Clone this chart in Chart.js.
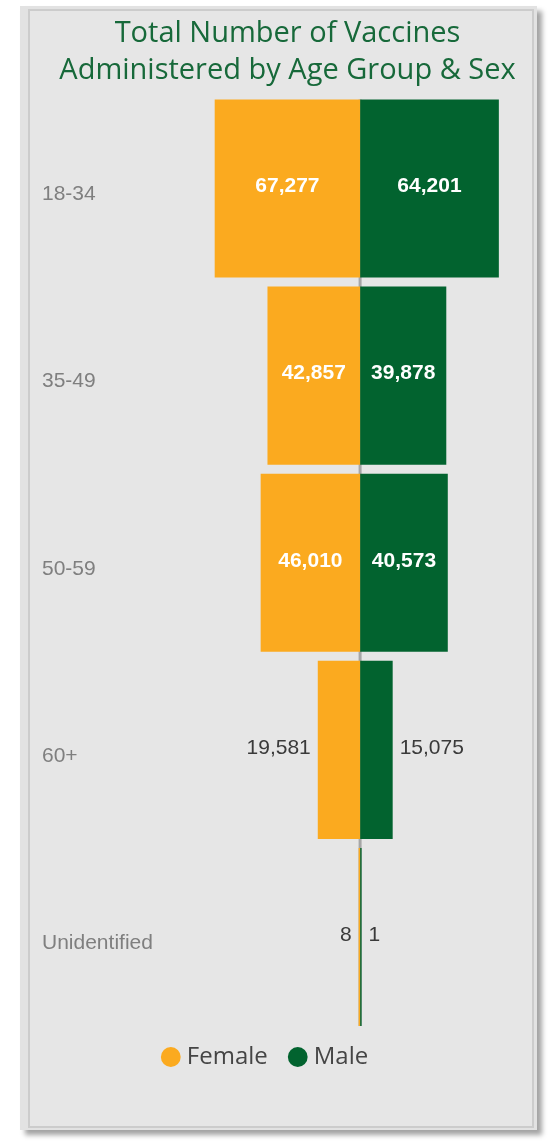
<!DOCTYPE html>
<html>
<head>
<meta charset="utf-8">
<script src="https://cdn.jsdelivr.net/npm/chart.js@4.4.0/dist/chart.umd.min.js"></script>
<style>
  html, body { margin: 0; padding: 0; background: #ffffff; }
  body { width: 553px; height: 1142px; position: relative; overflow: hidden; }
  .frame { position: absolute; left: 20px; top: 6px; width: 517px; height: 1124px; background: #e2e2e2; box-shadow: 5px 5px 5px #a3a3a3; }
  .inner { position: absolute; left: 8px; top: 3px; width: 506px; height: 1119px; box-sizing: border-box; border: 2px solid #cccccc; background: #e6e6e6; }
  #chart { position: absolute; left: 0; top: 0; }
</style>
</head>
<body>
<div class="frame"><div class="inner"></div></div>
<canvas id="chart" width="553" height="1142"></canvas>
<script>
const ageGroups = ['18-34', '35-49', '50-59', '60+', 'Unidentified'];
const femaleValues = [67277, 42857, 46010, 19581, 8];
const maleValues = [64201, 39878, 40573, 15075, 1];
const seriesNames = ['Female', 'Male'];
const seriesColors = ['#FBAA1F', '#02632F'];
const titleLines = ['Total Number of Vaccines', 'Administered by Age Group & Sex'];

Chart.defaults.font.family = '"Liberation Sans", Arial, sans-serif';

// female goes to the left of zero, male to the right
const femaleData = femaleValues.map(v => -v);

// grey zero line, only between the first bar top and the last bar bottom
const zeroLine = {
  id: 'zeroLine',
  beforeDatasetsDraw(chart) {
    const bars = chart.getDatasetMeta(0).data;
    if (!bars.length) return;
    const first = bars[0], last = bars[bars.length - 1];
    const x = chart.scales.x.getPixelForValue(0);
    const ctx = chart.ctx;
    ctx.save();
    ctx.strokeStyle = '#a6a6a6';
    ctx.lineWidth = 3;
    ctx.beginPath();
    ctx.moveTo(x, first.y - first.height / 2);
    ctx.lineTo(x, last.y + last.height / 2);
    ctx.stroke();
    ctx.restore();
  }
};

// value labels: inside the bar when it fits, otherwise just outside it
const barLabels = {
  id: 'barLabels',
  afterDatasetsDraw(chart) {
    const ctx = chart.ctx;
    chart.data.datasets.forEach((ds, di) => {
      const meta = chart.getDatasetMeta(di);
      const raw = di === 0 ? femaleValues : maleValues;
      meta.data.forEach((bar, i) => {
        const text = raw[i].toLocaleString('en-US');
        const w = Math.abs(bar.x - bar.base);
        ctx.save();
        ctx.textBaseline = 'middle';
        ctx.font = 'bold 21px "Liberation Sans", Arial, sans-serif';
        const tw = ctx.measureText(text).width;
        if (w > tw + 12) {
          ctx.fillStyle = '#ffffff';
          ctx.textAlign = 'center';
          ctx.fillText(text, (bar.x + bar.base) / 2, bar.y - 2);
        } else {
          ctx.font = '21px "Liberation Sans", Arial, sans-serif';
          ctx.fillStyle = '#3a3a3a';
          if (di === 0) {
            ctx.textAlign = 'right';
            ctx.fillText(text, Math.min(bar.x, bar.base) - 7, bar.y - 2);
          } else {
            ctx.textAlign = 'left';
            ctx.fillText(text, Math.max(bar.x, bar.base) + 7, bar.y - 2);
          }
        }
        ctx.restore();
      });
    });
  }
};

// legend sits a bit left of the title centre in the original
const legendShift = {
  id: 'legendShift',
  afterLayout(chart) {
    const lg = chart.legend;
    lg.left -= 20; lg.right -= 20;
    lg.top -= 11.5; lg.bottom -= 11.5;
  }
};

const ctx = document.getElementById('chart');
new Chart(ctx, {
  type: 'bar',
  data: {
    labels: ageGroups,
    datasets: [
      { label: seriesNames[0], data: femaleData, backgroundColor: seriesColors[0], borderWidth: 0, minBarLength: 1.5 },
      { label: seriesNames[1], data: maleValues, backgroundColor: seriesColors[1], borderWidth: 0, minBarLength: 1.5 }
    ]
  },
  options: {
    indexAxis: 'y',
    responsive: false,
    animation: false,
    barPercentage: 0.952,
    categoryPercentage: 1,
    layout: { padding: { top: 15, left: 42, right: 20, bottom: 51.5 } },
    plugins: {
      tooltip: { enabled: false },
      title: {
        display: true,
        text: titleLines,
        color: '#17693A',
        font: { family: '"Open Sans", sans-serif', size: 29, weight: 'normal', lineHeight: 1.276 },
        padding: { top: 0, bottom: 6 }
      },
      legend: {
        position: 'bottom',
        labels: {
          usePointStyle: true,
          pointStyle: 'circle',
          boxWidth: 8,
          boxHeight: 14,
          padding: 26,
          color: '#454545',
          font: { family: '"Open Sans", sans-serif', size: 24 }
        }
      }
    },
    scales: {
      x: {
        stacked: true,
        min: -80000,
        max: 80000,
        display: false
      },
      y: {
        stacked: true,
        border: { display: false },
        grid: { display: false },
        ticks: {
          crossAlign: 'far',
          labelOffset: 6,
          color: '#7f7f7f',
          font: { size: 21 }
        },
        afterFit: function(scale) { scale.width = 145.2; }
      }
    }
  },
  plugins: [zeroLine, barLabels, legendShift]
});
</script>
</body>
</html>
